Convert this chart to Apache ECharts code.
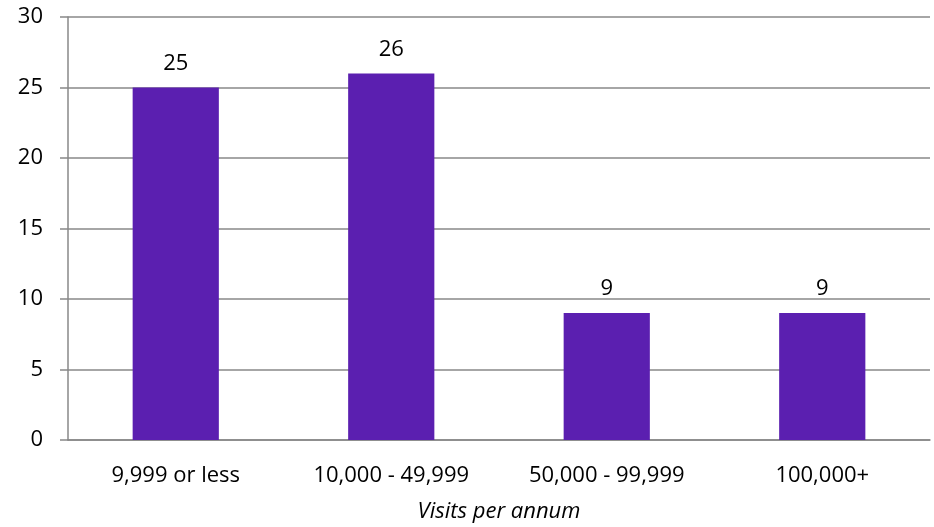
<!DOCTYPE html>
<html>
<head>
<meta charset="utf-8">
<script src="https://cdn.jsdelivr.net/npm/echarts@6/dist/echarts.min.js"></script>
<style>
  html, body { margin: 0; padding: 0; background: #fff; }
  #chart { width: 934px; height: 527px; }
</style>
</head>
<body>
<div id="chart"></div>
<script>
// data
var categories = ['9,999 or less', '10,000 - 49,999', '50,000 - 99,999', '100,000+'];
var visits = [25, 26, 9, 9];
var yTicks = { min: 0, max: 30, interval: 5 };

var myChart = echarts.init(document.getElementById('chart'));
var font = 'Open Sans';
var fs = 22;

var option = {
  animation: false,
  textStyle: { fontFamily: font, fontSize: fs },
  grid: { left: 68, right: 4, top: 17, bottom: 87, outerBoundsMode: 'none' },
  xAxis: {
    type: 'category',
    data: categories,
    name: 'Visits per annum',
    nameLocation: 'middle',
    nameGap: 61,
    nameTextStyle: { fontStyle: 'italic', fontSize: fs, color: '#000', fontFamily: font },
    axisLine: { lineStyle: { color: '#888', width: 1.5 } },
    axisTick: { show: false },
    axisLabel: { fontSize: fs, color: '#000', margin: 25, fontFamily: font }
  },
  yAxis: {
    type: 'value',
    min: yTicks.min,
    max: yTicks.max,
    interval: yTicks.interval,
    axisLine: { show: true, lineStyle: { color: '#888', width: 1.5 } },
    axisTick: { show: true, inside: false, length: 8, lineStyle: { color: '#888', width: 1.5 } },
    splitLine: { lineStyle: { color: '#888', width: 1.5 } },
    axisLabel: { fontSize: fs, color: '#000', margin: 25, fontFamily: font }
  },
  series: [{
    type: 'bar',
    data: visits,
    barWidth: '40%',
    itemStyle: { color: '#5B1FB0' },
    label: {
      show: true,
      position: 'top',
      distance: 13,
      fontSize: fs,
      color: '#000',
      fontFamily: font
    }
  }]
};

myChart.setOption(option);
</script>
</body>
</html>
